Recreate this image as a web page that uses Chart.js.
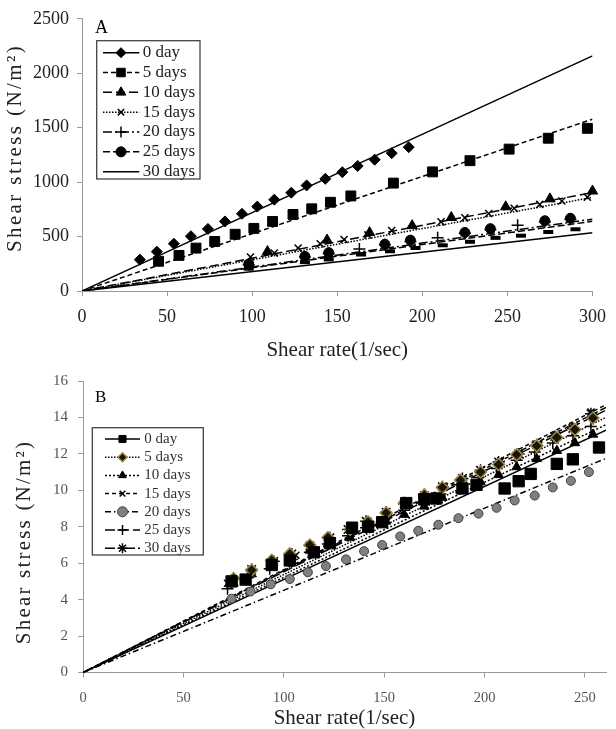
<!DOCTYPE html>
<html><head><meta charset="utf-8">
<script src="https://cdn.jsdelivr.net/npm/chart.js@4.4.0/dist/chart.umd.min.js"></script>
<style>
html,body{margin:0;padding:0;background:#fff;}
#wa{position:absolute;left:0;top:0;width:616px;height:362px;}
#wb{position:absolute;left:0;top:362px;width:616px;height:367px;}
</style></head><body>
<div id="wa"><canvas id="ca"></canvas></div>
<div id="wb"><canvas id="cb"></canvas></div>
<script>
// ---------- DATA ----------
const seriesLabels = ['0 day','5 days','10 days','15 days','20 days','25 days','30 days'];
const xTicksA = [0,50,100,150,200,250,300];
const yTicksA = [0,500,1000,1500,2000,2500];
const xTicksB = [0,50,100,150,200,250];
const yTicksB = [0,2,4,6,8,10,12,14,16];

// Panel A
const a0x=[34,44,54,64,74,84,94,103,113,123,132,143,153,162,172,182,192];
const a0y=[288,361,434,503,570,639,709,775,839,903,970,1030,1091,1148,1206,1266,1321];
const a5x=[45,57,67,78,90,101,112,124,135,146,158,183,206,228,251,274,297];
const a5y=[273,327,394,455,521,575,639,703,755,815,873,991,1094,1197,1303,1403,1494];
const a10x=[109,144,169,194,217,249,275,300];
const a10y=[362,468,536,600,675,773,846,918];
const a15x=[99,113,127,140,154,168,182,211,225,239,254,269,282,297];
const a15y=[312,348,394,434,473,515,555,635,672,712,760,795,827,862];
const a20x=[98,131,145,163,178,193,209,225,240,256,272,287];
const a20y=[240,312,345,385,425,455,490,530,565,605,635,660];
const a25x=[98,131,145,178,193,225,240,272,287];
const a25y=[248,318,352,430,467,537,572,645,668];
const a30x=[98,131,145,164,181,196,212,228,243,258,274,290];
const a30y=[205,265,290,335,365,395,420,452,488,508,542,567];
const trendEndA=[2160,1578,905,860,660,640,534]; // fitted line values at x=300

// Panel B
const b0x=[74,81,94,103,115,123,134,142,149,161,170,176,189,196,210,217,223,236,244,257];
const b0y=[5.0,5.1,5.9,6.15,6.6,7.1,7.95,8.0,8.25,9.3,9.5,9.55,10.1,10.3,10.1,10.5,10.9,11.45,11.7,12.35];
const b5x=[75,84,94,103,113,122,133,142,151,160,170,179,188,198,207,216,226,236,245,254];
const b5y=[5.16,5.62,6.16,6.51,7.0,7.41,7.86,8.26,8.76,9.3,9.75,10.15,10.56,11.0,11.42,11.96,12.44,12.9,13.34,13.97];
const b10x=[75,84,94,103,113,122,133,142,151,160,170,179,188,198,207,216,226,236,245,254];
const b10y=[4.9,5.4,5.9,6.3,6.7,7.05,7.41,7.9,8.3,8.67,9.12,9.6,10.0,10.45,10.85,11.28,11.73,12.17,12.6,13.07];
const b15x=[72,83,94,106,114,123,133,142,151,161,170,180,189,198,208,217,227,236,245,253];
const b15y=[4.9,5.4,5.95,6.43,6.85,7.3,7.8,8.3,8.75,9.25,9.7,10.2,10.65,11.1,11.6,12.05,12.55,13.0,13.5,14.3];
const b20x=[74,83.5,93.5,103,112,121,131,140,149,158,167,177,187,197,206,215,225,234,243,252];
const b20y=[4.05,4.45,4.84,5.13,5.5,5.84,6.21,6.66,7.0,7.47,7.78,8.11,8.47,8.72,9.04,9.44,9.71,10.16,10.52,11.0];
const b25x=[72,82,93,104,113,122,132,141,150,160,169,178,188,197,206,216,225,234,244,253];
const b25y=[4.6,5.2,5.7,6.2,6.6,7.05,7.5,7.95,8.4,8.9,9.35,9.8,10.3,10.7,11.2,11.65,12.1,12.6,13.0,13.5];
const b30x=[74,84,95,104,113,123,132,141,151,160,170,179,189,198,207,217,226,235,244,253];
const b30y=[4.95,5.65,6.1,6.5,6.95,7.4,7.85,8.3,8.8,9.25,9.7,10.2,10.65,11.1,11.55,12.0,12.5,12.95,13.4,14.2];
const trendEndB=[13.3,14.0,13.6,14.7,11.75,14.4,14.55]; // fitted line values at x=260.5

// ---------- STYLES ----------
const FONT="'Liberation Serif','DejaVu Serif',serif";
const stylesA=[
 {ps:'rectRot',r:5.5,bw:1,bg:'#000',bc:'#000',dash:[],lr:5},
 {ps:'rect',r:7,bw:1,bg:'#000',bc:'#000',dash:[5,3],lr:6},
 {ps:'triangle',r:6,bw:1,bg:'#000',bc:'#000',dash:[9,4],lr:5.5},
 {ps:'crossRot',r:5,bw:1.5,bg:'#000',bc:'#000',dash:[1.5,1.5],lr:4.5},
 {ps:'cross',r:6,bw:1.5,bg:'#000',bc:'#000',dash:[9,3,2,3],lr:5.5},
 {ps:'circle',r:5,bw:1,bg:'#000',bc:'#000',dash:[7,3],lr:5},
 {ps:'line',r:5,bw:4,bg:'#000',bc:'#000',dash:[],lr:0}
];
const stylesB=[
 {ps:'rect',r:8,bw:1,bg:'#000',bc:'#000',dash:[],lr:5},
 {ps:'rectRot',r:6,bw:1.5,bg:'#1a1505',bc:'#9c8a4a',dash:[1.5,1.5],lr:4.5},
 {ps:'triangle',r:5.5,bw:1,bg:'#000',bc:'#000',dash:[2,2],lr:4.5},
 {ps:'crossRot',r:5,bw:1.5,bg:'#000',bc:'#000',dash:[4,3],lr:4},
 {ps:'circle',r:4.5,bw:1,bg:'#808080',bc:'#404040',dash:[6,3,1.5,3],lr:5},
 {ps:'cross',r:6,bw:1.5,bg:'#000',bc:'#000',dash:[10,4],lr:5},
 {ps:'star',r:6,bw:1.5,bg:'#000',bc:'#000',dash:[10,3,4,3],lr:5}
];

function pts(xs,ys){return xs.map((x,i)=>({x:x,y:ys[i]}));}

function buildDatasets(xsList,ysList,styles,trendEnd,xmax){
  const ds=[];
  xsList.forEach((xs,i)=>{
    const s=styles[i];
    ds.push({label:seriesLabels[i],data:pts(xs,ysList[i]),showLine:false,pointStyle:s.ps,
      pointRadius:s.r,pointBorderWidth:s.bw,pointBackgroundColor:s.bg,pointBorderColor:s.bc,
      order:1,clip:false});
  });
  xsList.forEach((xs,i)=>{
    const s=styles[i];
    ds.push({label:seriesLabels[i]+' fit',data:[{x:0,y:0},{x:xmax,y:trendEnd[i]}],showLine:true,
      borderColor:'#000',borderWidth:1.5,borderDash:s.dash,pointRadius:0,order:2,fill:false});
  });
  return ds;
}

const legendPlugin={
  id:'customLegend',
  afterDraw(chart,args,o){
    const ctx=chart.ctx; ctx.save();
    // y axis title
    ctx.save();
    ctx.translate(o.ytX,o.ytY); ctx.rotate(-Math.PI/2);
    try{ctx.letterSpacing=o.ytSpacing;}catch(e){}
    ctx.font=o.ytFont; ctx.textAlign='center'; ctx.textBaseline='middle'; ctx.fillStyle='#222';
    ctx.fillText('Shear stress (N/m²)',0,0);
    ctx.restore();
    ctx.fillStyle='#000'; ctx.font=o.letterFont; ctx.textBaseline='middle'; ctx.textAlign='left';
    ctx.fillText(o.letter,o.letterX,o.letterY);
    ctx.fillStyle='#fff'; ctx.fillRect(o.box[0],o.box[1],o.box[2],o.box[3]);
    ctx.strokeStyle='#444'; ctx.lineWidth=1.3; ctx.setLineDash([]);
    ctx.strokeRect(o.box[0],o.box[1],o.box[2],o.box[3]);
    o.styles.forEach((s,i)=>{
      const y=o.row0+i*o.rowH;
      ctx.save();
      ctx.strokeStyle='#000'; ctx.lineWidth=1.5; ctx.setLineDash(s.dash);
      ctx.beginPath(); ctx.moveTo(o.lx0,y); ctx.lineTo(o.lx1,y); ctx.stroke();
      ctx.setLineDash([]);
      if(s.lr>0){
        ctx.fillStyle=s.bg; ctx.strokeStyle=s.bc; ctx.lineWidth=s.bw;
        Chart.helpers.drawPoint(ctx,{pointStyle:s.ps,radius:s.lr,borderWidth:s.bw,rotation:0},o.mx,y);
      }
      ctx.restore();
      ctx.fillStyle=o.textColor; ctx.font=o.font; ctx.textBaseline='middle'; ctx.textAlign='left';
      ctx.fillText(seriesLabels[i],o.tx,y);
    });
    ctx.restore();
  }
};

function axisX(max,ticks,tickSize,tickColor,pad,height,titlePad){
  return {type:'linear',min:0,max:max,
    ticks:{stepSize:50,includeBounds:false,font:{family:FONT,size:tickSize},color:tickColor,padding:pad,maxRotation:0,
      callback:(v)=>ticks.includes(v)?String(v):null},
    grid:{drawOnChartArea:false,drawTicks:true,tickLength:5,color:'#999'},
    border:{color:'#999',width:1},
    title:{display:true,text:'Shear rate(1/sec)',font:{family:FONT,size:21,lineHeight:1},color:'#222',padding:{top:0,bottom:titlePad}},
    afterFit:(s)=>{s.height=height;}};
}
function axisY(max,step,ticks,tickSize,tickColor,pad,width){
  return {type:'linear',min:0,max:max,
    ticks:{stepSize:step,font:{family:FONT,size:tickSize},color:tickColor,padding:pad,
      callback:(v)=>ticks.includes(v)?String(v):null},
    grid:{drawOnChartArea:false,drawTicks:true,tickLength:5,color:'#999'},
    border:{color:'#999',width:1},
    title:{display:false},
    afterFit:(s)=>{s.width=width;}};
}

new Chart(document.getElementById('ca'),{
  type:'scatter',
  data:{datasets:buildDatasets([a0x,a5x,a10x,a15x,a20x,a25x,a30x],[a0y,a5y,a10y,a15y,a20y,a25y,a30y],stylesA,trendEndA,300)},
  options:{responsive:true,maintainAspectRatio:false,animation:false,
    layout:{padding:{top:16,right:15,left:0,bottom:0}},
    scales:{x:axisX(300,xTicksA,18,'#222',10,71,1.5),y:axisY(2500,500,yTicksA,18,'#222',8,82)},
    plugins:{legend:{display:false},tooltip:{enabled:false},
      customLegend:{letter:'A',letterFont:'18px '+FONT,letterX:95,letterY:28,box:[96.7,40.7,103.3,138.3],
        row0:52.7,rowH:19.83,lx0:103,lx1:139.3,mx:121,tx:142.7,font:'17px '+FONT,textColor:'#222',styles:stylesA,
        ytX:15,ytY:148,ytFont:'21px '+FONT,ytSpacing:'2.4px'}}},
  plugins:[legendPlugin]
});

new Chart(document.getElementById('cb'),{
  type:'scatter',
  data:{datasets:buildDatasets([b0x,b5x,b10x,b15x,b20x,b25x,b30x],[b0y,b5y,b10y,b15y,b20y,b25y,b30y],stylesB,trendEndB,260.5)},
  options:{responsive:true,maintainAspectRatio:false,animation:false,
    layout:{padding:{top:14,right:10,left:0,bottom:0}},
    scales:{x:axisX(260.5,xTicksB,14.5,'#555',12,56.5,0),y:axisY(16,2,yTicksB,15,'#555',10,83)},
    plugins:{legend:{display:false},tooltip:{enabled:false},
      customLegend:{letter:'B',letterFont:'17px '+FONT,letterX:95,letterY:35.5,box:[92.3,65.7,111,127.3],
        row0:77,rowH:18.2,lx0:105,lx1:140,mx:122.5,tx:144.3,font:'15px '+FONT,textColor:'#333',styles:stylesB,
        ytX:24,ytY:180,ytFont:'21px '+FONT,ytSpacing:'2.2px'}}},
  plugins:[legendPlugin]
});
</script>
</body></html>
